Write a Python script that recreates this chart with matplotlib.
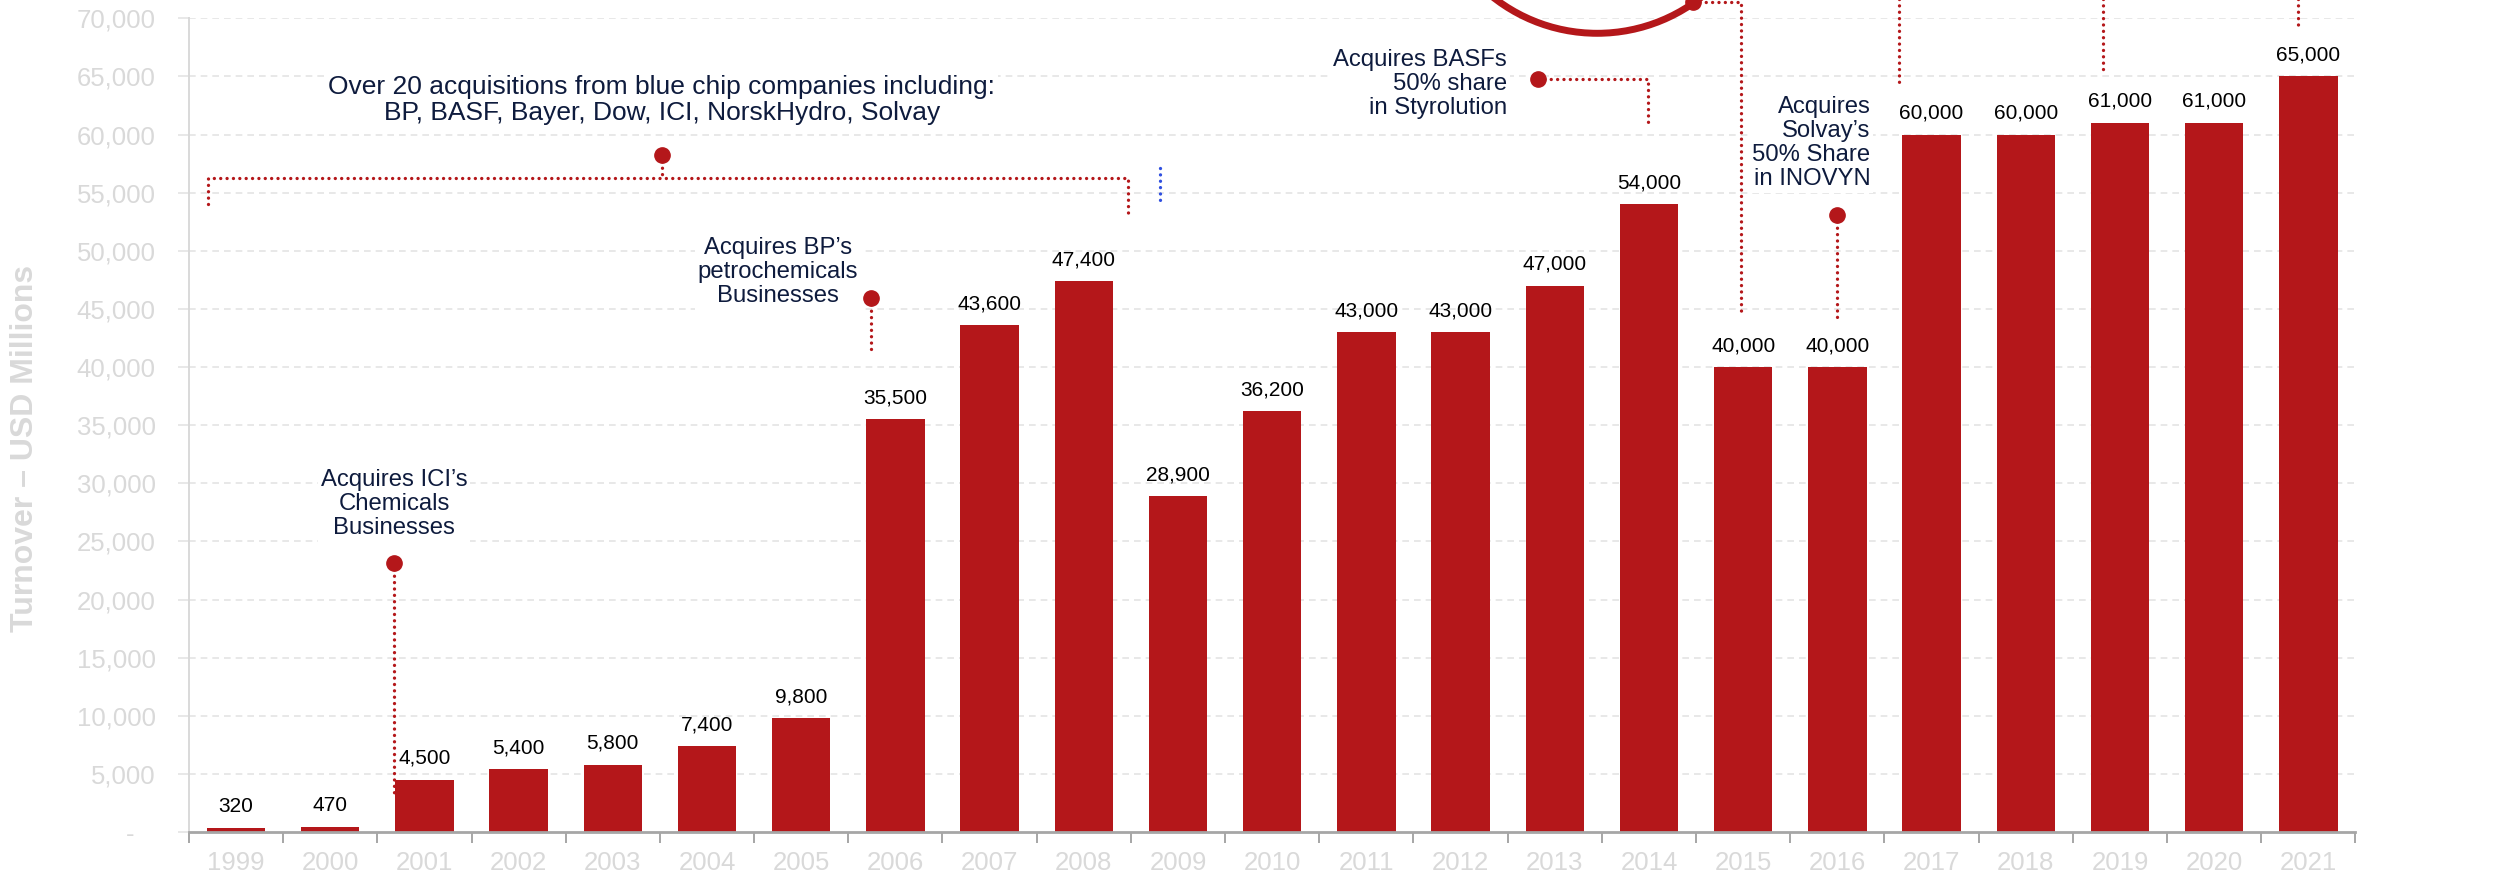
import matplotlib
matplotlib.use("Agg")
import matplotlib.pyplot as plt
from matplotlib.patches import Ellipse
from matplotlib.ticker import FixedLocator, FuncFormatter

plt.rcParams['font.family'] = ['Liberation Sans', 'DejaVu Sans']

# ---------------- data ----------------
years = [str(y) for y in range(1999, 2022)]
turnover = [320, 470, 4500, 5400, 5800, 7400, 9800, 35500, 43600, 47400,
            28900, 36200, 43000, 43000, 47000, 54000, 40000, 40000,
            60000, 60000, 61000, 61000, 65000]
yticks = list(range(0, 70001, 5000))

txt_ici = "Acquires ICI\u2019s\nChemicals\nBusinesses"
txt_over = ("Over 20 acquisitions from blue chip companies including:\n"
            "BP, BASF, Bayer, Dow, ICI, NorskHydro, Solvay")
txt_bp = "Acquires BP\u2019s\npetrochemicals\nBusinesses"
txt_basf = "Acquires BASFs\n50% share\nin Styrolution"
txt_solvay = "Acquires\nSolvay\u2019s\n50% Share\nin INOVYN"

# ---------------- style ----------------
BAR = '#B4171A'
NAVY = '#0E1B3D'
LGREY = '#D9D9D9'

W, H = 2509, 886
fig = plt.figure(figsize=(W / 100, H / 100), dpi=100)
ax = fig.add_axes([188.9 / W, 1 - 832 / H, (2355.5 - 188.9) / W, (832 - 18.3) / H])

x = list(range(len(years)))
ax.bar(x, turnover, width=0.62, color=BAR, zorder=3)
ax.set_xlim(-0.5, len(years) - 0.5)
ax.set_ylim(0, 70000)

# grid
for v in yticks[1:]:
    ax.axhline(v, color='#E4E4E4', lw=1.2, ls=(0, (4, 3)), zorder=1)

# spines
for s in ['top', 'right']:
    ax.spines[s].set_visible(False)
ax.spines['left'].set_color(LGREY)
ax.spines['left'].set_linewidth(1.4)
ax.spines['bottom'].set_color('#A6A6A6')
ax.spines['bottom'].set_linewidth(2)
ax.spines['bottom'].set_zorder(4)

ax.set_xticks(x)
ax.set_xticklabels(years)
ax.xaxis.set_minor_locator(FixedLocator([i - 0.5 for i in range(len(years) + 1)]))
ax.tick_params(axis='x', which='major', length=0, pad=14, labelsize=18.5, labelcolor=LGREY)
ax.tick_params(axis='x', which='minor', length=8, width=1.4, color='#A6A6A6', direction='out')

ax.set_yticks(yticks)
ax.yaxis.set_major_formatter(FuncFormatter(lambda v, p: "-   " if v == 0 else f"{int(v):,}"))
ax.tick_params(axis='y', length=8, width=1.2, color='#E4E4E4', pad=16, labelsize=18.5, labelcolor=LGREY)

fig.text(25 / W, 1 - 448 / H, "Turnover \u2013 USD Millions", rotation=90, ha='center', va='center',
         fontsize=23, fontweight='bold', color=LGREY)

# value labels
for i, v in enumerate(turnover):
    ax.annotate(f"{v:,}", (i, v), xytext=(0, 11.5), textcoords='offset points',
                ha='center', va='baseline', fontsize=15, color='black', zorder=5)

# ---------------- annotations ----------------
DOT = dict(color=BAR, lw=2.4, ls=(0, (0.01, 1.9)), dash_capstyle='round',
           solid_capstyle='round', clip_on=False, zorder=6)

def pin(xp, yp):
    ax.plot([xp], [yp], 'o', color=BAR, ms=11, clip_on=False, zorder=7)

def note(xp, yp, s, ha='center', fs=17.2):
    ax.text(xp, yp, s, ha=ha, va='center', multialignment=ha, fontsize=fs, color=NAVY,
            linespacing=1.12, zorder=5,
            bbox=dict(facecolor='white', edgecolor='none', pad=2))

# ICI
ax.plot([1.68, 1.68], [23130, 3180], **DOT)
pin(1.68, 23130)
note(1.68, 28250, txt_ici)

# Over 20 acquisitions bracket
ax.plot([-0.30, -0.30, 9.47, 9.47], [54010, 56240, 56240, 53230], **DOT)
ax.plot([4.52, 4.52], [58220, 56240], **DOT)
pin(4.52, 58220)
note(4.52, 62950, txt_over, fs=19)
ax.plot([9.81, 9.81], [57100, 54090], color='#2F4FE0', lw=2.4, ls=(0, (0.01, 1.9)),
        dash_capstyle='round', zorder=6)

# BP
ax.plot([6.74, 6.74], [45920, 41110], **DOT)
pin(6.74, 45920)
note(5.75, 48160, txt_bp)

# BASF
ax.plot([13.82, 14.99, 14.99], [64760, 64760, 60630], **DOT)
pin(13.82, 64760)
note(13.49, 64320, txt_basf, ha='right')

# circled item at top (mostly above the chart)
ax.add_patch(Ellipse((14.45, 83160), 3.57, 28900, fill=False, edgecolor=BAR, lw=5,
                     clip_on=False, zorder=6))
ax.plot([15.47, 15.98, 15.98], [71380, 71380, 44630], **DOT)
pin(15.47, 71380)

# lines coming from annotations above the frame
ax.plot([17.65, 17.65], [80000, 63980], **DOT)
ax.plot([19.82, 19.82], [80000, 65270], **DOT)
ax.plot([21.89, 21.89], [80000, 69400], **DOT)

# Solvay
ax.plot([17.0, 17.0], [53060, 44030], **DOT)
pin(17.0, 53060)
note(17.35, 59240, txt_solvay, ha='right')

fig.savefig("out.png", dpi=100)
